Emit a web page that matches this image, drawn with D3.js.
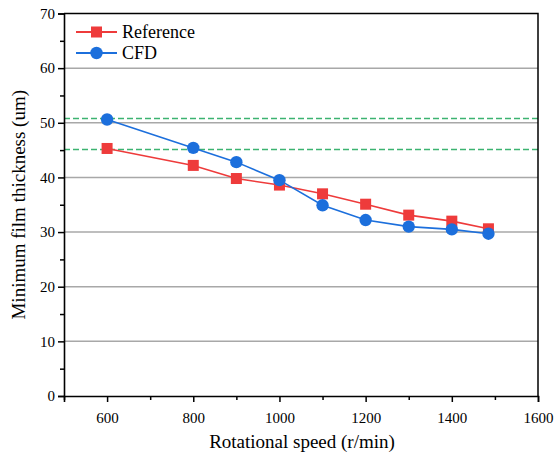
<!DOCTYPE html>
<html>
<head>
<meta charset="utf-8">
<script src="https://cdn.jsdelivr.net/npm/d3@7/dist/d3.min.js"></script>
<style>
  html, body { margin: 0; padding: 0; background: #fff; }
  svg text { font-family: "Liberation Serif", "Times New Roman", serif; fill: #000; }
</style>
</head>
<body>
<svg id="chart" width="559" height="460"></svg>
<script>
// Rotational speeds (r/min)
const speeds = [600, 800, 900, 1000, 1100, 1200, 1300, 1400, 1485];
// Minimum film thickness (um)
const referenceValues = [45.3, 42.2, 39.8, 38.6, 37.0, 35.1, 33.1, 32.0, 30.6];
const cfdValues       = [50.6, 45.4, 42.8, 39.5, 34.9, 32.2, 31.0, 30.5, 29.7];
// Horizontal reference levels (um)
const limitLevels = [50.8, 45.1];

const xTicks = [600, 800, 1000, 1200, 1400, 1600];
const xMinorTicks = [500, 700, 900, 1100, 1300, 1500];
const yTicks = [0, 10, 20, 30, 40, 50, 60, 70];
const yMinorTicks = [5, 15, 25, 35, 45, 55, 65];
const gridLevels = [10, 20, 30, 40, 50, 60];

const svg = d3.select("#chart");
const plotLeft = 64, plotRight = 538, plotTop = 13.5, plotBottom = 396;

const x = d3.scaleLinear().domain([500, 1600]).range([plotLeft, plotRight]);
const y = d3.scaleLinear().domain([0, 70]).range([plotBottom, plotTop]);

const red = "#ee3b3b", blue = "#1c6fdc", green = "#3cb371";

// Grid lines
svg.append("g").selectAll("line").data(gridLevels).join("line")
  .attr("x1", plotLeft).attr("x2", plotRight)
  .attr("y1", d => y(d)).attr("y2", d => y(d))
  .attr("stroke", "#a8a8a8").attr("stroke-width", 1.5);

// Dashed horizontal levels
svg.append("g").selectAll("line").data(limitLevels).join("line")
  .attr("x1", plotLeft).attr("x2", plotRight)
  .attr("y1", d => y(d)).attr("y2", d => y(d))
  .attr("stroke", green).attr("stroke-width", 1.5)
  .attr("stroke-dasharray", "6,3");

// Frame (top and right)
svg.append("path")
  .attr("d", `M${plotLeft},${plotTop}H${plotRight}V${plotBottom}`)
  .attr("fill", "none").attr("stroke", "#000").attr("stroke-width", 1.5);

// Axes
svg.append("g").attr("class", "axis").attr("transform", `translate(0,${plotBottom})`)
  .call(d3.axisBottom(x).tickValues(xTicks).tickFormat(d3.format("d")).tickSize(6).tickPadding(10));
svg.append("g").attr("class", "axis").attr("transform", `translate(0,${plotBottom})`)
  .call(d3.axisBottom(x).tickValues(xMinorTicks).tickFormat("").tickSize(4))
  .call(g => g.select(".domain").remove());

svg.append("g").attr("class", "axis").attr("transform", `translate(${plotLeft},0)`)
  .call(d3.axisLeft(y).tickValues(yTicks).tickFormat(d3.format("d")).tickSize(6).tickPadding(3));
svg.append("g").attr("class", "axis").attr("transform", `translate(${plotLeft},0)`)
  .call(d3.axisLeft(y).tickValues(yMinorTicks).tickFormat("").tickSize(4))
  .call(g => g.select(".domain").remove());

svg.selectAll(".axis").attr("color", "#000");
svg.selectAll(".domain").attr("stroke", "#000").attr("stroke-width", 1.6);
svg.selectAll(".tick line").attr("stroke", "#000").attr("stroke-width", 1.5);
svg.selectAll(".tick text").attr("font-size", 15)
  .attr("font-family", "Liberation Serif, Times New Roman, serif").attr("fill", "#000");

// Axis titles
svg.append("text")
  .attr("x", (plotLeft + plotRight) / 2 + 1).attr("y", 448)
  .attr("text-anchor", "middle").attr("font-size", 19)
  .text("Rotational speed (r/min)");
svg.append("text")
  .attr("transform", `translate(25,${(plotTop + plotBottom) / 2}) rotate(-90)`)
  .attr("text-anchor", "middle").attr("font-size", 19)
  .text("Minimum film thickness (um)");

// Series
const line = d3.line().x(d => x(d[0])).y(d => y(d[1]));
const refPts = speeds.map((s, i) => [s, referenceValues[i]]);
const cfdPts = speeds.map((s, i) => [s, cfdValues[i]]);

svg.append("path").datum(refPts).attr("d", line)
  .attr("fill", "none").attr("stroke", red).attr("stroke-width", 1.6);
svg.append("path").datum(cfdPts).attr("d", line)
  .attr("fill", "none").attr("stroke", blue).attr("stroke-width", 1.6);

const sq = 11;
svg.append("g").selectAll("rect").data(refPts).join("rect")
  .attr("x", d => x(d[0]) - sq / 2).attr("y", d => y(d[1]) - sq / 2)
  .attr("width", sq).attr("height", sq).attr("fill", red);
svg.append("g").selectAll("circle").data(cfdPts).join("circle")
  .attr("cx", d => x(d[0])).attr("cy", d => y(d[1])).attr("r", 6.2)
  .attr("fill", blue);

// Legend
const legend = svg.append("g");
const legendItems = [
  { name: "Reference", color: red, shape: "square", cy: 32 },
  { name: "CFD", color: blue, shape: "circle", cy: 53 }
];
legendItems.forEach(it => {
  legend.append("line").attr("x1", 76).attr("x2", 117)
    .attr("y1", it.cy).attr("y2", it.cy)
    .attr("stroke", it.color).attr("stroke-width", 2);
  if (it.shape === "square") {
    legend.append("rect").attr("x", 96.5 - sq / 2).attr("y", it.cy - sq / 2)
      .attr("width", sq).attr("height", sq).attr("fill", it.color);
  } else {
    legend.append("circle").attr("cx", 96.5).attr("cy", it.cy).attr("r", 6.2)
      .attr("fill", it.color);
  }
  legend.append("text").attr("x", 122).attr("y", it.cy + 6)
    .attr("font-size", 18).text(it.name);
});
</script>
</body>
</html>
